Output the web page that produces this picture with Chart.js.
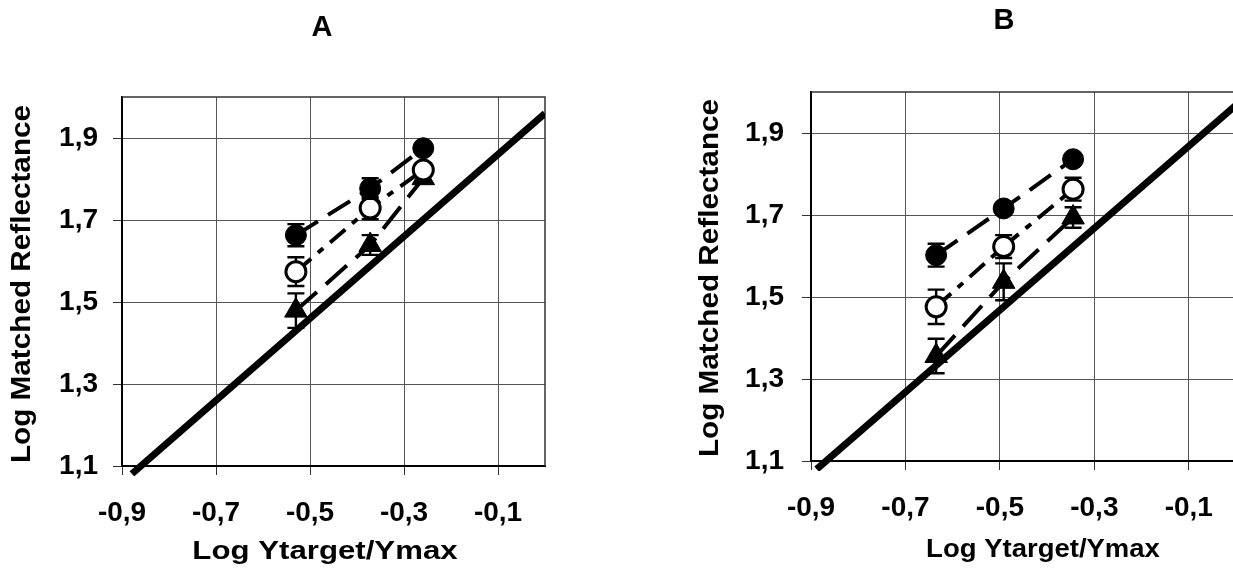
<!DOCTYPE html>
<html>
<head>
<meta charset="utf-8">
<script src="https://cdn.jsdelivr.net/npm/chart.js@4.4.1/dist/chart.umd.min.js"></script>
<style>
    html, body { margin: 0; padding: 0; background: #fff; }
    body { width: 1233px; height: 579px; overflow: hidden; position: relative; }
    canvas { position: absolute; top: 0; }
    #graficoA { left: 0; }
    #graficoB { left: 660px; }
</style>
</head>
<body>
<canvas id="graficoA" width="560" height="579"></canvas>
<canvas id="graficoB" width="591" height="579"></canvas>
<script>
// ============================================
// DATA
// ============================================

const xTicks = [-0.9, -0.7, -0.5, -0.3, -0.1];
const yTicks = [1.1, 1.3, 1.5, 1.7, 1.9];

// Panel A
const xA = [-0.53, -0.372, -0.259];
const filledA = [1.663, 1.777, 1.875];
const filledErrA = [0.027, 0.025, 0.01];
const openA = [1.574, 1.729, 1.822];
const openErrA = [0.035, 0.027, 0.01];
const triA = [1.479, 1.639, 1.802];
const triErrA = [0.042, 0.024, 0.01];
const identityAx = [-0.879, 0];
const identityAy = [1.081, 1.96];

// Panel B
const xB = [-0.635, -0.492, -0.345];
const filledB = [1.602, 1.716, 1.836];
const filledErrB = [0.028, 0.012, 0.01];
const openB = [1.476, 1.623, 1.763];
const openErrB = [0.042, 0.028, 0.028];
const triB = [1.356, 1.537, 1.694];
const triErrB = [0.042, 0.045, 0.025];
const identityBx = [-0.888, 0];
const identityBy = [1.08, 1.968];

const FONT = '"Liberation Sans", Arial, Helvetica, sans-serif';

// ========== PLUGINS ==========
const errorBars = {
    id: 'errorBars',
    beforeDatasetDraw(chart, args) {
        const ds = chart.data.datasets[args.index];
        if (!ds.errors) return;
        const ctx = chart.ctx;
        const y = chart.scales.y;
        ctx.save();
        ctx.strokeStyle = '#000';
        ctx.lineWidth = 2.4;
        args.meta.data.forEach((pt, i) => {
            const v = ds.data[i].y;
            const e = ds.errors[i];
            const top = y.getPixelForValue(v + e);
            const bot = y.getPixelForValue(v - e);
            ctx.beginPath();
            ctx.moveTo(pt.x, top); ctx.lineTo(pt.x, bot);
            ctx.moveTo(pt.x - 8.5, top); ctx.lineTo(pt.x + 8.5, top);
            ctx.moveTo(pt.x - 8.5, bot); ctx.lineTo(pt.x + 8.5, bot);
            ctx.stroke();
        });
        ctx.restore();
    }
};

const frame = {
    id: 'frame',
    beforeDatasetsDraw(chart) {
        const { left, top, right, bottom } = chart.chartArea;
        const ctx = chart.ctx;
        ctx.save();
        ctx.strokeStyle = '#333';
        ctx.lineWidth = 1.5;
        ctx.beginPath();
        ctx.moveTo(left, top);
        ctx.lineTo(right, top);
        ctx.lineTo(right, bottom);
        ctx.stroke();
        ctx.restore();
    }
};

const panelTexts = {
    id: 'panelTexts',
    afterDraw(chart, args, opts) {
        const ctx = chart.ctx;
        (opts.items || []).forEach(t => {
            ctx.save();
            ctx.translate(t.x, t.y);
            ctx.rotate(t.rot || 0);
            ctx.scale(t.sx || 1, 1);
            ctx.font = 'bold ' + t.size + 'px ' + FONT;
            ctx.fillStyle = '#000';
            ctx.textAlign = 'center';
            ctx.textBaseline = 'middle';
            ctx.fillText(t.text, 0, 0);
            ctx.restore();
        });
    }
};

// ========== HELPERS ==========
function pontos(xs, ys) {
    return xs.map((v, i) => ({ x: v, y: ys[i] }));
}

function fmt(v) {
    return v.toFixed(1).replace('.', ',');
}

function serie(xs, ys, errs, estilo, dash) {
    return {
        data: pontos(xs, ys),
        errors: errs,
        showLine: true,
        borderColor: '#000',
        borderWidth: 4,
        borderDash: dash,
        pointStyle: estilo.style,
        pointRadius: estilo.radius,
        pointBackgroundColor: estilo.fill,
        pointBorderColor: '#000',
        pointBorderWidth: estilo.border,
        order: 1
    };
}

// ========== CREATE CHART ==========
function criarPainel(id, g, s) {
    const ctx = document.getElementById(id);
    const tickFont = { family: FONT, size: 28, weight: 'bold' };
    const grade = { color: '#555', lineWidth: 1, tickLength: 9, tickColor: '#333' };

    return new Chart(ctx, {
        type: 'scatter',
        data: {
            datasets: [
                serie(s.x, s.filled, s.filledErr, { style: 'circle', radius: 10.5, fill: '#000', border: 1 }, [26, 12]),
                serie(s.x, s.open, s.openErr, { style: 'circle', radius: 10, fill: '#fff', border: 3 }, [20, 9, 7, 9]),
                serie(s.x, s.tri, s.triErr, { style: 'triangle', radius: 13, fill: '#000', border: 1 }, [28, 12]),
                {
                    data: pontos(s.idx, s.idy),
                    showLine: true,
                    borderColor: '#000',
                    borderWidth: 7,
                    pointRadius: 0,
                    clip: { left: 0, top: 0, right: 0, bottom: 10 },
                    order: 5
                }
            ]
        },
        options: {
            responsive: false,
            animation: false,
            devicePixelRatio: 1,
            layout: { padding: { top: g.top, right: 15, left: 0, bottom: 0 } },
            plugins: {
                legend: { display: false },
                tooltip: { enabled: false },
                panelTexts: { items: g.texts }
            },
            scales: {
                x: {
                    type: 'linear',
                    min: -0.9,
                    max: 0,
                    afterBuildTicks: sc => { sc.ticks = xTicks.map(v => ({ value: v })); },
                    afterFit: sc => { sc.height = g.xh; },
                    ticks: {
                        autoSkip: false,
                        maxRotation: 0,
                        color: '#000',
                        padding: 21,
                        font: tickFont,
                        callback: v => fmt(v)
                    },
                    grid: grade,
                    border: { color: '#000', width: 2 }
                },
                y: {
                    type: 'linear',
                    min: 1.1,
                    max: 2.0,
                    afterBuildTicks: sc => { sc.ticks = yTicks.map(v => ({ value: v })); },
                    afterFit: sc => { sc.width = g.yw; },
                    ticks: {
                        color: '#000',
                        padding: g.ypad,
                        font: tickFont,
                        callback: v => fmt(v)
                    },
                    grid: grade,
                    border: { color: '#000', width: 2 }
                }
            }
        },
        plugins: [frame, errorBars, panelTexts]
    });
}

document.addEventListener('DOMContentLoaded', function() {
    criarPainel('graficoA', {
        top: 97, xh: 113, yw: 122, ypad: 15,
        texts: [
            { text: 'A', x: 322, y: 28, size: 29 },
            { text: 'Log Ytarget/Ymax', x: 325, y: 552, size: 26, sx: 1.2 },
            { text: 'Log Matched Reflectance', x: 23, y: 284, size: 27, sx: 1.1, rot: -Math.PI / 2 }
        ]
    }, {
        x: xA, filled: filledA, filledErr: filledErrA, open: openA, openErr: openErrA,
        tri: triA, triErr: triErrA, idx: identityAx, idy: identityAy
    });

    criarPainel('graficoB', {
        top: 92, xh: 118, yw: 151, ypad: 18,
        texts: [
            { text: 'B', x: 344, y: 21, size: 29 },
            { text: 'Log Ytarget/Ymax', x: 383, y: 550, size: 25, sx: 1.1 },
            { text: 'Log Matched Reflectance', x: 51, y: 278, size: 27, sx: 1.1, rot: -Math.PI / 2 }
        ]
    }, {
        x: xB, filled: filledB, filledErr: filledErrB, open: openB, openErr: openErrB,
        tri: triB, triErr: triErrB, idx: identityBx, idy: identityBy
    });
});
</script>
</body>
</html>
